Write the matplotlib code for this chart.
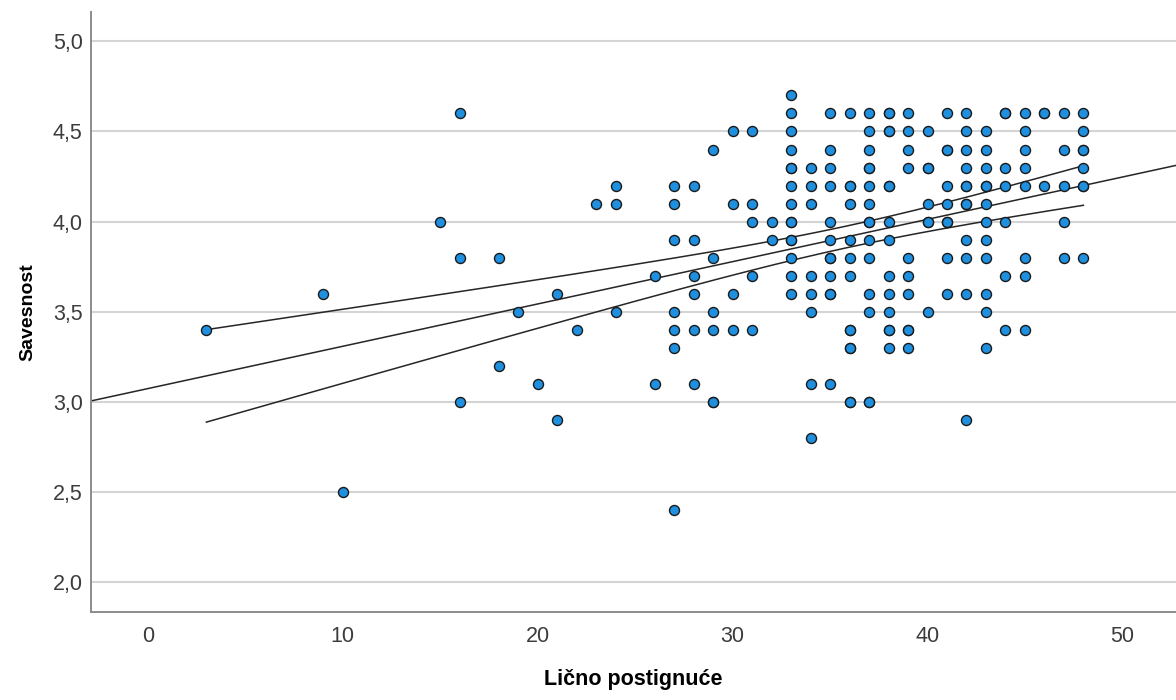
import numpy as np
import matplotlib.pyplot as plt

# Lično postignuće (x) and Savesnost (y), one list per x value
x_vals = [3, 9, 10, 15, 16, 18, 19, 20, 21, 22, 23, 24, 26, 27, 28, 29, 30,
          31, 32, 33, 34, 35, 36, 37, 38, 39, 40, 41, 42, 43, 44, 45, 46, 47, 48]
y_groups = [
    [3.4],
    [3.6],
    [2.5],
    [4.0],
    [4.6, 3.8, 3.0],
    [3.8, 3.2],
    [3.5],
    [3.1],
    [3.6, 2.9],
    [3.4],
    [4.1],
    [4.2, 4.1, 3.5],
    [3.7, 3.1],
    [4.2, 4.1, 3.9, 3.5, 3.4, 3.3, 2.4],
    [4.2, 3.9, 3.7, 3.6, 3.4, 3.1],
    [4.4, 3.8, 3.5, 3.4, 3.0],
    [4.5, 4.1, 3.6, 3.4],
    [4.5, 4.1, 4.0, 3.7, 3.4],
    [4.0, 3.9],
    [4.7, 4.6, 4.5, 4.4, 4.3, 4.2, 4.1, 4.0, 3.9, 3.8, 3.7, 3.6],
    [4.3, 4.2, 4.1, 3.7, 3.6, 3.5, 3.1, 2.8],
    [4.6, 4.4, 4.3, 4.2, 4.0, 3.9, 3.8, 3.7, 3.6, 3.1],
    [4.6, 4.2, 4.1, 3.9, 3.8, 3.7, 3.4, 3.3, 3.0],
    [4.6, 4.5, 4.4, 4.3, 4.2, 4.1, 4.0, 3.9, 3.8, 3.6, 3.5, 3.0],
    [4.6, 4.5, 4.2, 4.0, 3.9, 3.7, 3.6, 3.5, 3.4, 3.3],
    [4.6, 4.5, 4.4, 4.3, 3.8, 3.7, 3.6, 3.4, 3.3],
    [4.5, 4.3, 4.1, 4.0, 3.5],
    [4.6, 4.4, 4.2, 4.1, 4.0, 3.8, 3.6],
    [4.6, 4.5, 4.4, 4.3, 4.2, 4.1, 3.9, 3.8, 3.6, 2.9],
    [4.5, 4.4, 4.3, 4.2, 4.1, 4.0, 3.9, 3.8, 3.6, 3.5, 3.3],
    [4.6, 4.3, 4.2, 4.0, 3.7, 3.4],
    [4.6, 4.5, 4.4, 4.3, 4.2, 3.8, 3.7, 3.4],
    [4.6, 4.2],
    [4.6, 4.4, 4.2, 4.0, 3.8],
    [4.6, 4.5, 4.4, 4.3, 4.2, 3.8],
]

# second cases sitting on an already plotted position (darker outline)
x_repeat = [38, 38, 41, 33, 37, 40, 36, 38, 33, 37, 40, 41, 33, 35, 44,
            46, 48, 42, 43, 48, 42, 35, 36, 36, 38, 39, 29, 36, 37]
y_repeat = [4.6, 4.5, 4.4, 4.3, 4.3, 4.3, 4.2, 4.2, 4.0, 4.0, 4.0, 4.0, 3.9, 3.8, 4.6,
            4.6, 4.4, 4.2, 4.2, 4.2, 4.1, 3.6, 3.4, 3.3, 3.4, 3.4, 3.0, 3.0, 3.0]

y_ticks = [2.0, 2.5, 3.0, 3.5, 4.0, 4.5, 5.0]
x_ticks = [0, 10, 20, 30, 40, 50]

x = np.concatenate([[xv] * len(g) for xv, g in zip(x_vals, y_groups)] + [x_repeat]).astype(float)
y = np.concatenate(y_groups + [y_repeat]).astype(float)

# linear fit + 95% CI of the mean
n = len(x)
b1, b0 = np.polyfit(x, y, 1)
resid = y - (b0 + b1 * x)
s = np.sqrt(np.sum(resid**2) / (n - 2))
sxx = np.sum((x - x.mean())**2)
t_crit = 1.970

plt.rcParams['font.family'] = ['Liberation Sans', 'DejaVu Sans']

fig = plt.figure(figsize=(11.76, 7.0), dpi=100)
ax = fig.add_axes([91 / 1176, 88 / 700, 1 - 91 / 1176, 600 / 700])

xlim = (-2.92, 52.75)
ylim = (1.834, 5.163)
ax.set_xlim(*xlim)
ax.set_ylim(*ylim)

ax.set_axisbelow(True)
ax.yaxis.grid(True, color='#d4d4d4', lw=1.5)
for side in ['top', 'right']:
    ax.spines[side].set_visible(False)
for side in ['left', 'bottom']:
    ax.spines[side].set_color('#8c8c8c')
    ax.spines[side].set_linewidth(1.4)

# fit line over the whole axis width
xf = np.linspace(xlim[0], xlim[1], 200)
ax.plot(xf, b0 + b1 * xf, color='#262626', lw=1.1, zorder=2)

# confidence band only over the data range
xc = np.linspace(x.min(), x.max(), 200)
se = s * np.sqrt(1 / n + (xc - x.mean())**2 / sxx)
ax.plot(xc, b0 + b1 * xc + t_crit * se, color='#262626', lw=1.1, zorder=2)
ax.plot(xc, b0 + b1 * xc - t_crit * se, color='#262626', lw=1.1, zorder=2)

ax.scatter(x, y, s=52, facecolor='#1f8fe0', edgecolor='#1a1a1a', linewidth=1.0, zorder=3)

ax.set_xticks(x_ticks)
ax.set_yticks(y_ticks)
ax.set_yticklabels([f'{v:.1f}'.replace('.', ',') for v in y_ticks])
ax.tick_params(axis='both', length=0, labelsize=15.5, labelcolor='#3c3c3c')
ax.tick_params(axis='x', pad=10)
ax.tick_params(axis='y', pad=6)

ax.set_xlabel('Lično postignuće', fontsize=15.5, fontweight='bold', labelpad=16)
ax.set_ylabel('Savesnost', fontsize=14, fontweight='bold', labelpad=12)

fig.savefig('out.png', dpi=100)
